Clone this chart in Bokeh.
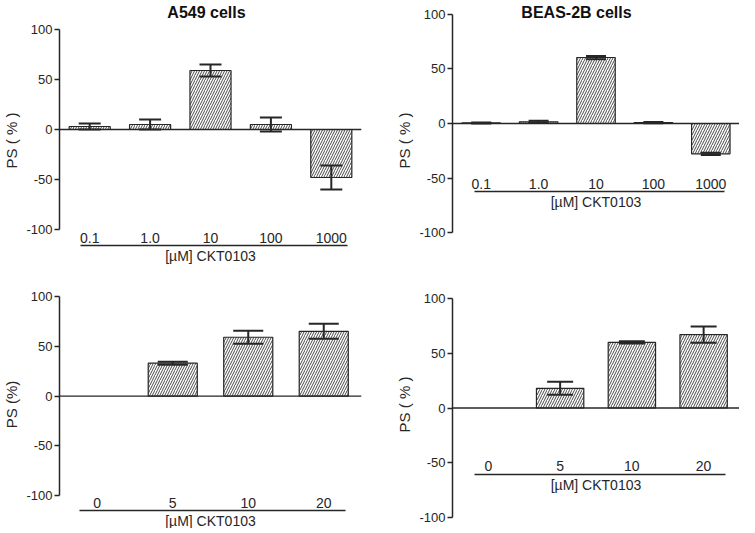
from bokeh.plotting import figure
from bokeh.models import (FactorRange, Range1d, LinearAxis, CategoricalAxis, FixedTicker,
                          Span, Whisker, TeeHead, ColumnDataSource, Label)
from bokeh.layouts import gridplot
from bokeh.embed import file_html
from bokeh.resources import INLINE

# ---------------- data ----------------
conc_top = ["0.1", "1.0", "10", "100", "1000"]
a549_top_ps = [3, 5, 59, 5, -48]
a549_top_err = [3, 5, 6, 7, 12]
beas_top_ps = [0.5, 1.5, 60.5, 0.8, -27.8]
beas_top_err = [0.5, 1, 1.5, 0.5, 1]

conc_bottom = ["0", "5", "10", "20"]
a549_bottom_ps = [0, 33, 59, 65]
a549_bottom_err = [0, 1.5, 6.5, 7.5]
beas_bottom_ps = [0, 18, 60, 67]
beas_bottom_err = [0, 6, 1, 7.5]

y_ticks = [-100, -50, 0, 50, 100]
x_title = "[\u00b5M] CKT0103"

FONT = "Liberation Sans"
INK = "#262626"


def make_panel(factors, values, errs, width, height, bl, br, y_lo, y_hi, ylabel,
               line_loc, line_bounds, bar_w, tee, title=None, title_y=None, title_off=0):
    p = figure(x_range=FactorRange(factors=factors), y_range=Range1d(y_lo, y_hi),
               width=width, height=height, output_backend="svg", toolbar_location=None,
               x_axis_location=None, y_axis_location=None, title=None,
               min_border_left=bl, min_border_right=br, min_border_top=0, min_border_bottom=0)
    p.outline_line_color = None
    p.background_fill_color = "white"
    p.border_fill_color = "white"
    for g in p.grid:
        g.visible = False

    bx = [f for f, v in zip(factors, values) if v != 0]
    bt = [v for v in values if v != 0]
    src = ColumnDataSource(dict(x=bx, top=bt))
    p.vbar(x="x", top="top", bottom=0, width=bar_w, source=src,
           fill_color="white", line_color=INK, line_width=1.2,
           hatch_pattern="/", hatch_color="#4a4a4a", hatch_scale=5, hatch_weight=1)

    p.add_layout(Span(location=0, dimension="width", line_color=INK, line_width=1.3))

    wx = [f for f, e in zip(factors, errs) if e > 0]
    wu = [v + e for v, e in zip(values, errs) if e > 0]
    wl = [v - e for v, e in zip(values, errs) if e > 0]
    ws = ColumnDataSource(dict(base=wx, upper=wu, lower=wl))
    p.add_layout(Whisker(base="base", upper="upper", lower="lower", source=ws,
                         dimension="height", line_color=INK, line_width=2, level="overlay",
                         upper_head=TeeHead(size=tee, line_color=INK, line_width=2),
                         lower_head=TeeHead(size=tee, line_color=INK, line_width=2)))

    ya = LinearAxis(ticker=FixedTicker(ticks=y_ticks), bounds=(-100, 100), axis_label=ylabel)
    ya.major_label_overrides = {t: str(t) for t in y_ticks}
    ya.axis_line_color = INK
    ya.axis_line_width = 1.5
    ya.major_tick_line_color = INK
    ya.major_tick_line_width = 1.5
    ya.major_tick_out = 5
    ya.major_tick_in = 0
    ya.minor_tick_line_color = None
    ya.major_label_standoff = 2
    ya.major_label_text_font = FONT
    ya.major_label_text_font_size = "13px"
    ya.major_label_text_color = INK
    ya.axis_label_standoff = 3
    ya.axis_label_text_font = FONT
    ya.axis_label_text_font_size = "15px"
    ya.axis_label_text_font_style = "normal"
    ya.axis_label_text_color = INK
    p.add_layout(ya, "left")

    # category labels sitting above the underline
    ca = CategoricalAxis(fixed_location=line_loc, bounds=line_bounds)
    ca.axis_line_color = INK
    ca.axis_line_width = 1.5
    ca.major_tick_line_color = None
    ca.major_tick_out = 0
    ca.major_tick_in = 0
    ca.major_label_standoff = 3
    ca.major_label_text_font = FONT
    ca.major_label_text_font_size = "14px"
    ca.major_label_text_color = INK
    p.add_layout(ca, "above")

    # axis title below the underline (no ticks, no labels)
    cb = LinearAxis(fixed_location=line_loc, axis_label=x_title, ticker=FixedTicker(ticks=[]))
    cb.axis_line_color = None
    cb.major_tick_line_color = None
    cb.minor_tick_line_color = None
    cb.major_tick_out = 0
    cb.major_tick_in = 0
    cb.major_label_standoff = 0
    cb.axis_label_standoff = 2
    cb.axis_label_text_font = FONT
    cb.axis_label_text_font_size = "14px"
    cb.axis_label_text_font_style = "normal"
    cb.axis_label_text_color = INK
    p.add_layout(cb, "below")

    if title:
        # centre of the middle factor, in synthetic categorical coordinates
        mid = len(factors) / 2.0
        p.add_layout(Label(x=mid, y=title_y, x_offset=title_off, text=title,
                           text_align="center", text_baseline="middle",
                           text_font=FONT, text_font_style="bold", text_font_size="16px",
                           text_color="#111111"))
    return p


p1 = make_panel(conc_top, a549_top_ps, a549_top_err, 372, 280, 54, 11, -151, 129,
                "PS ( % )", -116, (0.34, 4.77), 0.68, 22, "A549 cells", 117, -4)
p2 = make_panel(conc_top, beas_top_ps, beas_top_err, 367, 280, 80, 0, -144, 112.8,
                "PS ( % )", -62.4, (0.38, 4.74), 0.67, 20, "BEAS-2B cells", 101.8, -19.5)
p3 = make_panel(conc_bottom, a549_bottom_ps, a549_bottom_err, 372, 248, 55, 10, -133, 116,
                "PS (%)", -115, (0.26, 3.79), 0.65, 30)
p4 = make_panel(conc_bottom, beas_bottom_ps, beas_bottom_err, 367, 248, 80, 0, -110, 116.4,
                "PS ( % )", -60.7, (0.30, 3.81), 0.66, 26)

layout = gridplot([[p1, p2], [p3, p4]], toolbar_location=None)

open("out.html", "w").write(file_html(layout, INLINE))
